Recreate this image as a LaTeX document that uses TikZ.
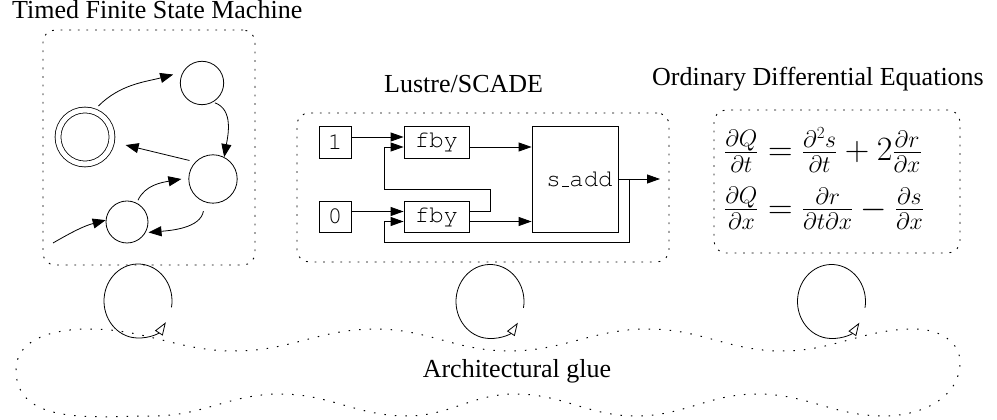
\RequirePackage{fix-cm}
\documentclass[tikz,border=0pt]{standalone}
\usepackage{amsmath}
\usepackage{graphicx}
\usepackage[no-math]{fontspec}
\setmainfont{Liberation Serif}
\usetikzlibrary{arrows.meta}
\newcommand{\courierfont}{\fontencoding{OT1}\fontfamily{pcr}\fontsize{24}{24}\selectfont}
\begin{document}
\begin{tikzpicture}[x=1pt,y=1pt,
  state/.style={draw, circle, line width=0.8pt, inner sep=0pt},
  fsmarr/.style={line width=0.8pt, -{Triangle[length=13pt,width=10pt]}},
  blk/.style={draw, line width=0.8pt, inner sep=0pt, font=\courierfont},
  wire/.style={line width=0.8pt},
  wirearr/.style={wire, -{Triangle[length=13pt,width=9pt]}},
  frame/.style={draw, line width=0.9pt, dash pattern=on 1.8pt off 6.8pt, rounded corners=12pt, inner sep=0pt},
  ttl/.style={font=\fontsize{26}{30}\selectfont, inner sep=0pt, anchor=base west},
  cyc/.style={line width=0.8pt, -{Triangle[open,length=13pt,width=9pt]}},
  gluestyle/.style={line width=1pt, dash pattern=on 1.5pt off 9pt}
]
\useasboundingbox (0,0) rectangle (997,420);

% titles
\node[ttl] (t1) at (12,401) {Timed Finite State Machine};
\node[ttl] (t2) at (384,327) {Lustre/SCADE};
\node[ttl] (t3) at (652,334) {Ordinary Differential Equations};

% frames
\node[frame, minimum width=212pt, minimum height=235pt] (fsm) at (149,272.5) {};
\node[frame, minimum width=372pt, minimum height=149pt] (lus) at (483,232.5) {};
\node[frame, minimum width=246pt, minimum height=143pt] (ode) at (837,238.5) {};

% FSM
\node[state, minimum size=43.4pt] (A) at (202,337) {};
\node[state, double, double distance=5pt, minimum size=54pt] (B) at (85,283) {};
\node[state, minimum size=48.4pt] (C) at (213,241) {};
\node[state, minimum size=42pt] (D) at (127,198) {};
\coordinate (in) at (53,177);

\draw[fsmarr, shorten <=7pt, shorten >=10pt] (B.72) to[out=45,in=195] (A.150);
\draw[fsmarr, shorten <=2pt] (A.-60) to[out=-20,in=80] (C.63);
\draw[fsmarr, shorten <=6pt, shorten >=14pt] (C.136) -- (B.-10);
\draw[fsmarr, shorten <=3pt] (D.63) to[out=65,in=190] ([xshift=-7pt]C.west);
\draw[fsmarr, shorten <=9pt, shorten >=3pt] (C.-109) to[out=-100,in=5] (D.-30);
\draw[fsmarr] (in) to[out=30,in=195] (D.175);

% Lustre
\node[blk, minimum width=32pt, minimum height=32pt] (n1) at (335,278) {1};
\node[blk, minimum width=65pt, minimum height=32pt] (f1) at (436.5,278) {fby};
\node[blk, minimum width=32pt, minimum height=31pt] (n0) at (335,203.5) {0};
\node[blk, minimum width=65pt, minimum height=31pt] (f2) at (436.5,203.5) {fby};
\node[blk, minimum width=86pt, minimum height=106pt] (sadd) at (575,241) {\hspace*{9pt}s\_add};
\coordinate (out) at (660,241);
\coordinate (j) at (629,241);

\draw[wirearr] ([yshift=5pt]n1.east) -- ([yshift=5pt]f1.west);
\draw[wirearr] ([yshift=5pt]n0.east) -- ([yshift=5pt]f2.west);
\draw[wirearr] ([yshift=-5pt]f1.east) -- ([yshift=-5pt]f1.east -| sadd.west);
\draw[wirearr] ([yshift=-5pt]f2.east) -- ([yshift=-5pt]f2.east -| sadd.west);
\draw[wirearr] (sadd.east) -- (out);
\draw[wirearr] ([yshift=5pt]f2.east) -- (490,208.5) -- (490,231) -- (384,231) |- ([yshift=-5pt]f1.west);
\draw[wirearr] (j) |- (384,177.3) |- ([yshift=-5pt]f2.west);

% ODE
\node[font=\fontsize{34}{40}\selectfont, inner sep=0pt, anchor=west] (eq) at (724,241)
 {$\begin{aligned}
 \tfrac{\partial Q}{\partial t} &= \tfrac{\partial^2 s}{\partial t} + 2\tfrac{\partial r}{\partial x}\\[10pt]
 \tfrac{\partial Q}{\partial x} &= \tfrac{\partial r}{\partial t\partial x} - \tfrac{\partial s}{\partial x}
 \end{aligned}$};

% loops
\draw[cyc] (138,119) ++(-10:34pt and 37pt) arc[start angle=-10, end angle=325, x radius=34, y radius=37];
\draw[cyc] (490,118.5) ++(-10:34pt and 37pt) arc[start angle=-10, end angle=325, x radius=34, y radius=37];
\draw[cyc] (831.5,118.5) ++(-10:34pt and 37pt) arc[start angle=-10, end angle=325, x radius=34, y radius=37];

% glue
\draw[gluestyle] (16,50) to[out=90,in=180] (89,91) to[out=0,in=180] (235,69)
  to[out=0,in=180] (375,91) to[out=0,in=180] (509,69) to[out=0,in=180] (648,91)
  to[out=0,in=180] (782,69) to[out=0,in=180] (915,91) to[out=0,in=90] (960,58)
  to[out=-90,in=0] (884,4) to[out=180,in=0] (757,26) to[out=180,in=0] (636,4)
  to[out=180,in=0] (515,26) to[out=180,in=0] (407,4) to[out=180,in=0] (280,26)
  to[out=180,in=0] (153,4) to[out=180,in=-90] (16,50) -- cycle;
\node[font=\fontsize{26}{30}\selectfont, inner sep=0pt, anchor=base] (glue) at (517,42) {Architectural glue};
\end{tikzpicture}
\end{document}
